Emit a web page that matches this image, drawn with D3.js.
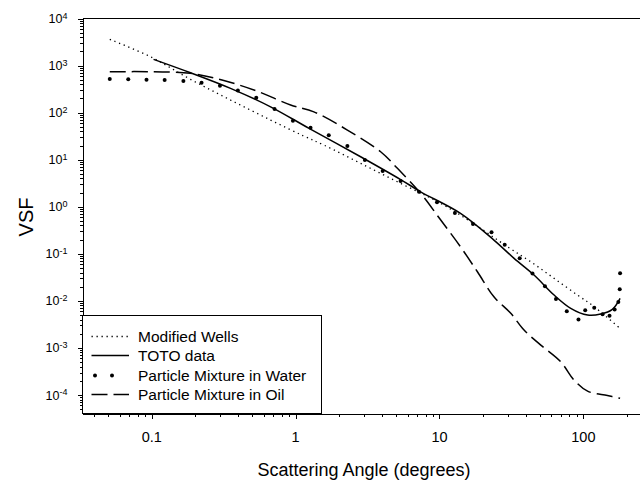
<!DOCTYPE html>
<html>
<head>
<meta charset="utf-8">
<script src="https://cdn.jsdelivr.net/npm/d3@7"></script>
<style>
body { margin: 0; background: #fff; }
text { font-family: "Liberation Sans", Arial, Helvetica, sans-serif; fill: #000; }
.axis path, .axis line { stroke: #000; shape-rendering: crispEdges; }
</style>
</head>
<body>
<svg id="chart" width="640" height="481"></svg>
<script>
// values (angle in degrees, VSF)
var wellsAngle = [0.0511, 0.0981, 0.186, 0.353, 0.670, 1.14, 1.57, 2.83, 5.37, 9.67, 16.5, 29.7, 43.1, 62.6, 91.0, 119, 180];
var wellsVSF   = [3606, 1540, 510, 185, 69.5, 31.8, 20.5, 8.36, 3.14, 1.29, 0.480, 0.141, 0.0678, 0.0301, 0.0133, 0.0075, 0.0026];

var totoAngle = [0.103, 0.186, 0.353, 0.670, 1.24, 2.83, 5.37, 7.40, 14.0, 23.9, 33.0, 45.4, 62.6, 81.7, 107, 132, 159, 180];
var totoVSF   = [1356, 704, 328, 133, 46.3, 11.55, 3.78, 2.08, 0.724, 0.196, 0.0801, 0.0354, 0.0133, 0.00694, 0.00500, 0.00525, 0.00660, 0.0113];

var waterAngle = [0.0511, 0.0687, 0.0920, 0.123, 0.166, 0.222, 0.298, 0.397, 0.533, 0.714, 0.958, 1.27, 1.70, 2.29, 3.03, 4.03, 5.37, 7.20, 9.61, 12.8, 17.1, 23.0, 28.4, 36.1, 44.3, 54.1, 64.5, 76.7, 92.5, 103, 119, 136, 152, 165, 175, 179, 180];
var waterVSF   = [517, 510, 500, 492, 469, 431, 373, 297, 207, 119, 67.2, 47.7, 32.9, 19.5, 9.83, 5.74, 3.52, 2.08, 1.24, 0.735, 0.429, 0.286, 0.156, 0.0801, 0.0381, 0.0204, 0.0109, 0.00602, 0.00401, 0.00629, 0.00714, 0.00517, 0.00481, 0.00654, 0.00944, 0.0176, 0.0385];

var oilAngle = [0.0511, 0.0981, 0.186, 0.317, 0.542, 0.923, 1.34, 2.29, 3.90, 5.10, 7.40, 10.2, 14.0, 18.4, 23.9, 31.3, 38.7, 50.6, 69.6, 86.2, 107, 147, 180];
var oilVSF   = [739, 739, 683, 480, 285, 145, 104, 42.6, 14.75, 6.55, 1.93, 0.522, 0.141, 0.0410, 0.0122, 0.00543, 0.00240, 0.00115, 0.000508, 0.000208, 0.000121, 0.0000973, 0.0000849];

var xMajor = [0.1, 1, 10, 100];
var xTickLabels = ["0.1", "1", "10", "100"];
var yExponents = [-4, -3, -2, -1, 0, 1, 2, 3, 4];

var legendNames = ["Modified Wells", "TOTO data", "Particle Mixture in Water", "Particle Mixture in Oil"];

var plotLeft = 82.5, plotTop = 18.5, plotBottom = 413.5, plotRight = 649;

var svg = d3.select("#chart");

var x = d3.scaleLog()
    .domain([0.03303, 285.9])
    .range([plotLeft, plotRight]);

var y = d3.scaleLog()
    .domain([4.045e-5, 1e4])
    .range([plotBottom, plotTop]);

// minor ticks 2..9 of every decade
var xMinor = [];
[-2, -1, 0, 1, 2].forEach(function(k) {
    for (var m = 2; m <= 9; m++) {
        var v = m * Math.pow(10, k);
        if (v > x.domain()[0] && v < x.domain()[1]) xMinor.push(v);
    }
});
var yMinor = [];
d3.range(-5, 4).forEach(function(k) {
    for (var m = 2; m <= 9; m++) {
        var v = m * Math.pow(10, k);
        if (v > y.domain()[0] && v < y.domain()[1]) yMinor.push(v);
    }
});
var yMajor = yExponents.map(function(e) { return Math.pow(10, e); });

// top frame line
svg.append("line")
    .attr("x1", plotLeft).attr("x2", 640)
    .attr("y1", plotTop).attr("y2", plotTop)
    .attr("stroke", "#000")
    .attr("shape-rendering", "crispEdges");

// x axis
svg.append("g")
    .attr("class", "axis")
    .attr("transform", "translate(0," + plotBottom + ")")
    .call(d3.axisBottom(x).tickValues(xMajor).tickSize(5).tickSizeOuter(0).tickFormat(""));
svg.append("g")
    .attr("class", "axis")
    .attr("transform", "translate(0," + plotBottom + ")")
    .call(d3.axisBottom(x).tickValues(xMinor).tickSize(3).tickSizeOuter(0).tickFormat(""))
    .select(".domain").remove();

svg.selectAll(".xlab").data(xMajor).enter().append("text")
    .attr("class", "xlab")
    .attr("x", function(d) { return x(d); })
    .attr("y", 442)
    .attr("text-anchor", "middle")
    .style("font-size", "14.5px")
    .text(function(d, i) { return xTickLabels[i]; });

// y axis
svg.append("g")
    .attr("class", "axis")
    .attr("transform", "translate(" + plotLeft + ",0)")
    .call(d3.axisLeft(y).tickValues(yMajor).tickSize(5).tickSizeOuter(0).tickFormat(""));
svg.append("g")
    .attr("class", "axis")
    .attr("transform", "translate(" + plotLeft + ",0)")
    .call(d3.axisLeft(y).tickValues(yMinor).tickSize(3).tickSizeOuter(0).tickFormat(""))
    .select(".domain").remove();

var ylab = svg.selectAll(".ylab").data(yExponents).enter().append("text")
    .attr("class", "ylab")
    .attr("x", 67.5)
    .attr("y", function(d) { return y(Math.pow(10, d)) + 4.5; })
    .attr("text-anchor", "end")
    .style("font-size", "12.5px");
ylab.append("tspan").text("10");
ylab.append("tspan")
    .attr("dy", "-0.5em")
    .style("font-size", "9px")
    .text(function(d) { return d; });

// axis titles
svg.append("text")
    .attr("x", 364)
    .attr("y", 476)
    .attr("text-anchor", "middle")
    .style("font-size", "18px")
    .text("Scattering Angle (degrees)");

svg.append("text")
    .attr("transform", "translate(33,217) rotate(-90)")
    .attr("text-anchor", "middle")
    .style("font-size", "20px")
    .text("VSF");

// curves
var line = d3.line()
    .x(function(d) { return x(d[0]); })
    .y(function(d) { return y(d[1]); })
    .curve(d3.curveCatmullRom.alpha(0.5));

svg.append("path")
    .datum(d3.zip(wellsAngle, wellsVSF))
    .attr("d", line)
    .attr("fill", "none")
    .attr("stroke", "#000")
    .attr("stroke-width", 1.3)
    .attr("stroke-dasharray", "1.3,3.7");

svg.append("path")
    .datum(d3.zip(totoAngle, totoVSF))
    .attr("d", line)
    .attr("fill", "none")
    .attr("stroke", "#000")
    .attr("stroke-width", 1.5);

svg.append("path")
    .datum(d3.zip(oilAngle, oilVSF))
    .attr("d", line)
    .attr("fill", "none")
    .attr("stroke", "#000")
    .attr("stroke-width", 1.5)
    .attr("stroke-dasharray", "16,6");

svg.selectAll(".dot").data(d3.zip(waterAngle, waterVSF)).enter().append("circle")
    .attr("class", "dot")
    .attr("cx", function(d) { return x(d[0]); })
    .attr("cy", function(d) { return y(d[1]); })
    .attr("r", 2)
    .attr("fill", "#000");

// legend
var lg = svg.append("g");
lg.append("rect")
    .attr("x", plotLeft).attr("y", 315.5)
    .attr("width", 238.5).attr("height", plotBottom - 315.5)
    .attr("fill", "#fff")
    .attr("stroke", "#000")
    .attr("shape-rendering", "crispEdges");

var rowY = [336.5, 355.5, 375.5, 394.5];
var sx1 = 91.5, sx2 = 129;

lg.append("line").attr("x1", sx1).attr("x2", sx2).attr("y1", rowY[0]).attr("y2", rowY[0])
    .attr("stroke", "#000").attr("stroke-width", 1.3).attr("stroke-dasharray", "1.3,3.7");
lg.append("line").attr("x1", sx1).attr("x2", sx2).attr("y1", rowY[1]).attr("y2", rowY[1])
    .attr("stroke", "#000").attr("stroke-width", 1.5);
lg.selectAll(".ldot").data([95, 112]).enter().append("circle")
    .attr("cx", function(d) { return d; })
    .attr("cy", rowY[2])
    .attr("r", 2)
    .attr("fill", "#000");
lg.append("line").attr("x1", sx1).attr("x2", sx2).attr("y1", rowY[3]).attr("y2", rowY[3])
    .attr("stroke", "#000").attr("stroke-width", 1.5).attr("stroke-dasharray", "16,6");

lg.selectAll(".ltext").data(legendNames).enter().append("text")
    .attr("x", 138)
    .attr("y", function(d, i) { return rowY[i] + 5.5; })
    .style("font-size", "15.5px")
    .text(function(d) { return d; });
</script>
</body>
</html>
